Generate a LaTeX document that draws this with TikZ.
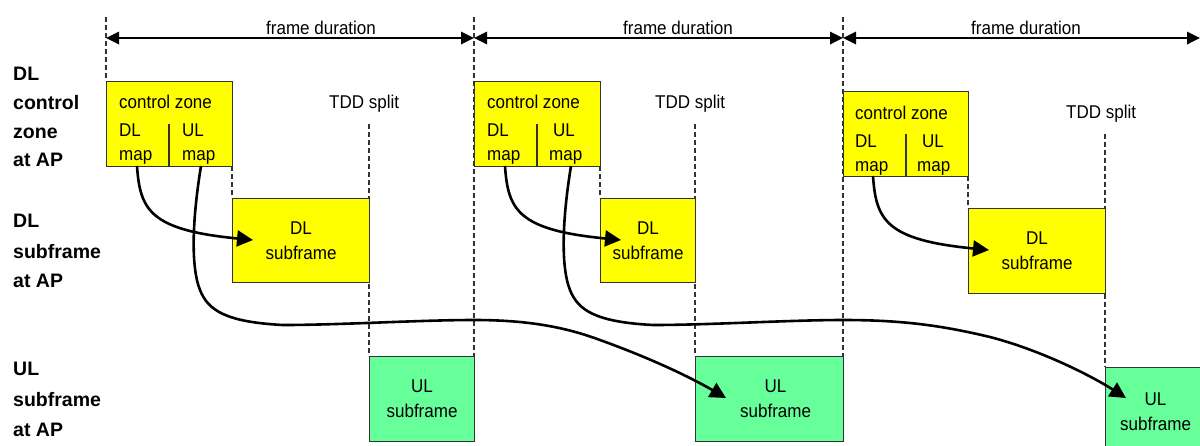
\documentclass[tikz,border=0pt]{standalone}
\usepackage{fontspec}
\setmainfont{Liberation Sans}
\newfontfamily\narrowfont{Liberation Sans}[FakeStretch=0.92]
\newcommand\diagfont{\narrowfont\fontsize{18.5}{25}\selectfont}
\newcommand\diaglabelfont{\bfseries\fontsize{19.5}{24}\selectfont}
\usetikzlibrary{arrows.meta}
\definecolor{zoneyellow}{RGB}{255,255,0}
\definecolor{ulgreen}{RGB}{102,255,153}
\definecolor{edgegray}{RGB}{51,51,51}
\begin{document}
\begin{tikzpicture}[x=1pt,y=-1pt,
  ybox/.style={draw=edgegray,line width=1.1pt,fill=zoneyellow,anchor=north west,inner sep=0pt,align=center,font=\diagfont},
  gbox/.style={draw=edgegray,line width=1.1pt,fill=ulgreen,anchor=north west,inner sep=0pt,align=center,font=\diagfont},
  txt/.style={anchor=base west,inner sep=0pt,font=\diagfont},
  lbl/.style={anchor=base west,inner sep=0pt,font=\diaglabelfont},
  guide/.style={draw=edgegray,line width=1.1pt,dash pattern=on 5pt off 3pt},
  divider/.style={draw=edgegray,line width=1.1pt},
  fdspan/.style={line width=1.8pt,{Triangle[length=13pt,width=12.5pt]}-{Triangle[length=13pt,width=12.5pt]}},
  mapconn/.style={line width=2.6pt,-{Triangle[length=16pt,width=16pt]}},
]
\useasboundingbox (0,0) rectangle (1200,445);
\clip (0,0) rectangle (1200,445);

% boxes (positions)
\coordinate (top1) at (106,17);
\coordinate (top2) at (474,17);
\coordinate (top3) at (843,17);
\coordinate (tdd1) at (369,124);
\coordinate (tdd2) at (695,124);
\coordinate (tdd3) at (1105,134);

% guide lines (drawn first, boxes cover them)
\draw[guide] (top1) -- (106,81);
\draw[guide] (top2) -- (474,356);
\draw[guide] (top3) -- (843,356);
\draw[guide] (232,166) -- (232,198);
\draw[guide] (tdd1) -- (369,356);
\draw[guide] (600,166) -- (600,198);
\draw[guide] (tdd2) -- (695,356);
\draw[guide] (968,176) -- (968,208);
\draw[guide] (tdd3) -- (1105,367);

% control zone boxes
\node[ybox,minimum width=126pt,minimum height=85pt] (cz1) at (106,81) {};
\node[ybox,minimum width=126pt,minimum height=85pt] (cz2) at (474,81) {};
\node[ybox,minimum width=125pt,minimum height=85pt] (cz3) at (843,91) {};

% DL subframes
\node[ybox,minimum width=137pt,minimum height=84pt] (dl1) at (232,198) {DL\\subframe};
\node[ybox,minimum width=95pt,minimum height=84pt] (dl2) at (600,198) {DL\\subframe};
\node[ybox,minimum width=137pt,minimum height=85pt] (dl3) at (968,208) {DL\\subframe};

% UL subframes
\node[gbox,minimum width=105pt,minimum height=85pt] (ul1) at (369,356) {UL\\subframe};
\node[gbox,minimum width=148pt,minimum height=85pt] (ul2) at (695,356) {\hspace*{12pt}UL\\\hspace*{12pt}subframe};
\node[gbox,minimum width=100pt,minimum height=88pt] (ul3) at (1105,367) {UL\\subframe};

% dividers inside control zone boxes
\draw[divider] (169,124) -- (169,166);
\draw[divider] (537,124) -- (537,166);
\draw[divider] (906,134) -- (906,176);

% control zone texts
\node[txt] (cz1t) at (119,108) {control zone};
\node[txt] (cz1dl) at (119,136) {DL};
\node[txt] (cz1dm) at (119,160) {map};
\node[txt] (cz1ul) at (182,136) {UL};
\node[txt] (cz1um) at (182,160) {map};

\node[txt] (cz2t) at (487,108) {control zone};
\node[txt] (cz2dl) at (487,136) {DL};
\node[txt] (cz2dm) at (487,160) {map};
\node[txt] (cz2ul) at (553,136) {UL};
\node[txt] (cz2um) at (549,160) {map};

\node[txt] (cz3t) at (855,119) {control zone};
\node[txt] (cz3dl) at (855,147) {DL};
\node[txt] (cz3dm) at (855,171) {map};
\node[txt] (cz3ul) at (922,147) {UL};
\node[txt] (cz3um) at (917,171) {map};

% TDD split labels
\node[txt] (tddl1) at (329,108) {TDD split};
\node[txt] (tddl2) at (655,108) {TDD split};
\node[txt] (tddl3) at (1066,118.5) {TDD split};

% frame duration
\node[txt] (fd1) at (266,34.5) {frame duration};
\node[txt] (fd2) at (623,34.5) {frame duration};
\node[txt] (fd3) at (971,34.5) {frame duration};
\coordinate (fa0) at (106,38);
\coordinate (fa1) at (474,38);
\coordinate (fa2) at (843,38);
\coordinate (fa3) at (1200,38);
\draw[fdspan] (fa0) -- (fa1);
\draw[fdspan] (fa1) -- (fa2);
\draw[fdspan] (fa2) -- (fa3);

% row labels
\node[lbl] (r1a) at (13,80) {DL};
\node[lbl] (r1b) at (13,109) {control};
\node[lbl] (r1c) at (13,138) {zone};
\node[lbl] (r1d) at (13,166.5) {at AP};
\node[lbl] (r2a) at (13,227.5) {DL};
\node[lbl] (r2b) at (13,258) {subframe};
\node[lbl] (r2c) at (13,287) {at AP};
\node[lbl] (r3a) at (13,375) {UL};
\node[lbl] (r3b) at (13,406) {subframe};
\node[lbl] (r3c) at (13,436) {at AP};

% connectors
\coordinate (a1s) at (137,166);
\coordinate (a1e) at (253,240);
\coordinate (a2s) at (201,166);
\coordinate (a2e) at (726,398);
\coordinate (b1s) at (505,166);
\coordinate (b1e) at (621,240);
\coordinate (b2s) at (571,166);
\coordinate (b2e) at (1126,398);
\coordinate (c1s) at (873,176);
\coordinate (c1e) at (989,250);

\draw[mapconn] (a1s) .. controls (140,210) and (150,230) .. (a1e);
\draw[mapconn] (a2s) .. controls (193,215) and (190,265) .. (200,290)
  .. controls (208,310) and (225,322) .. (283,325)
  .. controls (340,325) and (420,320) .. (474,320)
  .. controls (520,320) and (560,325) .. (600,340)
  .. controls (650,358) and (690,377) .. (a2e);
\draw[mapconn] (b1s) .. controls (508,210) and (518,230) .. (b1e);
\draw[mapconn] (b2s) .. controls (563,215) and (560,265) .. (570,290)
  .. controls (578,310) and (595,322) .. (653,325)
  .. controls (710,325) and (790,320) .. (843,320)
  .. controls (900,320) and (940,325) .. (990,337)
  .. controls (1040,350) and (1090,375) .. (b2e);
\draw[mapconn] (c1s) .. controls (876,220) and (886,240) .. (c1e);
\end{tikzpicture}
\end{document}
